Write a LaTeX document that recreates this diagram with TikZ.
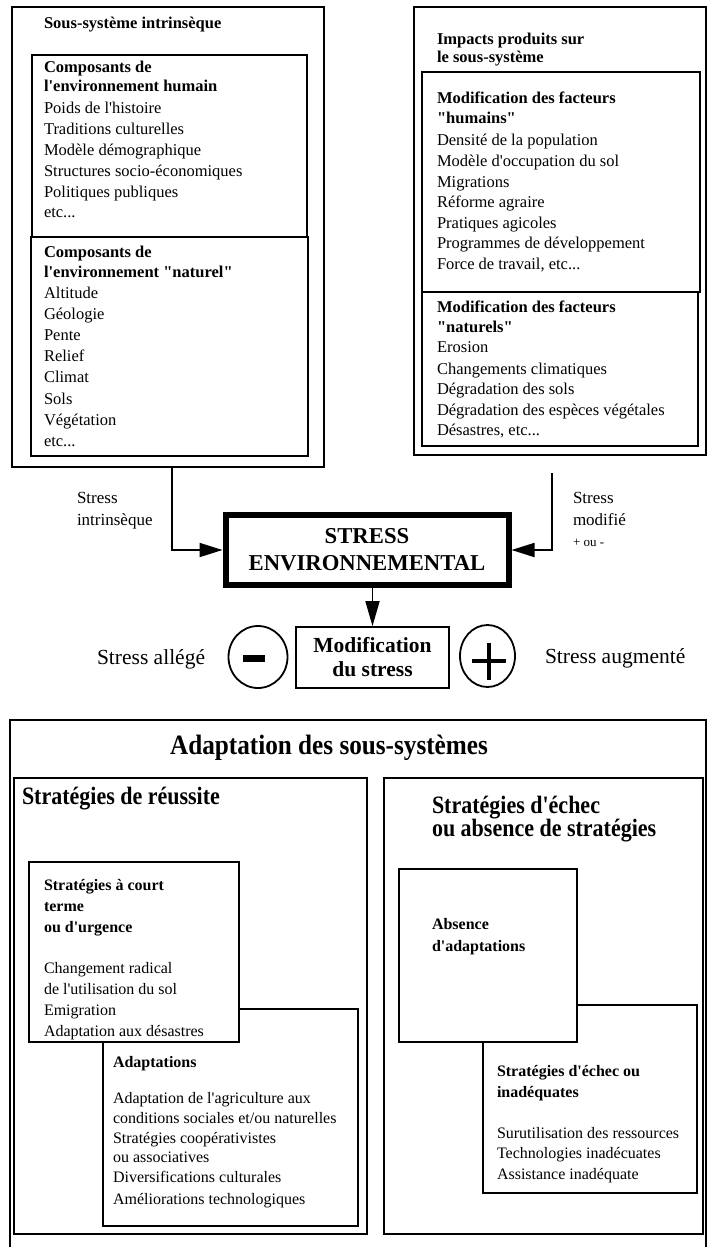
\documentclass[tikz,border=0pt]{standalone}
\usepackage{fontspec}
\newfontfamily\dgserif{Liberation Serif}
\usetikzlibrary{arrows.meta,shapes.geometric}
\newcommand\fsz[1]{\fontsize{#1}{#1}\selectfont}
\newcommand\cnd[1]{\scalebox{0.88}[1]{#1}}
\tikzset{
  box/.style={draw, line width=1.8pt, anchor=north west, inner sep=0pt, outer sep=0pt},
  wbox/.style={box, fill=white},
  txt/.style={font=\dgserif\fsz{16.5}, anchor=base west, inner sep=0pt, outer sep=0pt},
  txtb/.style={txt, font=\dgserif\bfseries\fsz{16.5}},
  lbl/.style={txt, font=\dgserif\fsz{17}},
  smtxt/.style={txt, font=\dgserif\fsz{16}},
  headb/.style={txt, font=\dgserif\bfseries\fsz{25}},
  arr/.style={line width=1.8pt, -{Triangle[length=23pt,width=14pt]}},
  signbar/.style={line width=#1},
}
\begin{document}
\begin{tikzpicture}[x=1pt,y=-1pt]
\useasboundingbox (0,0) rectangle (708,1247);

% ---------- top left ----------
\node[box, minimum width=312pt, minimum height=460pt] (tl) at (12,7) {};
\node[box, minimum width=275pt, minimum height=182pt] (hum) at (32,55) {};
\node[box, minimum width=277pt, minimum height=219pt] (nat) at (31,237) {};
\node[txtb] (tltitle) at (44,29) {Sous-système intrinsèque};
\foreach \ty/\tx [count=\i] in {67/{\bfseries Composants de}, 87/{\bfseries l'environnement humain},
  108/{Poids de l'histoire}, 129/{Traditions culturelles}, 150/{Modèle démographique},
  171/{Structures socio-économiques}, 192/{Politiques publiques}, 212/{etc...}}
  \node[txt] (huml\i) at (44,\ty+5) {\tx};
\foreach \ty/\tx [count=\i] in {252/{\bfseries Composants de}, 272/{\bfseries l'environnement "naturel"},
  293/{Altitude}, 314/{Géologie}, 335/{Pente}, 356/{Relief}, 377/{Climat}, 399/{Sols},
  420/{Végétation}, 441/{etc...}}
  \node[txt] (natl\i) at (44,\ty+5) {\tx};

% ---------- top right ----------
\node[box, minimum width=292pt, minimum height=448pt] (tr) at (414,7) {};
\node[box, minimum width=278pt, minimum height=220pt] (mh) at (422,72) {};
\node[box, minimum width=276pt, minimum height=154pt] (mn) at (422,292) {};
\node[txtb] (trt1) at (437,45) {Impacts produits sur};
\node[txtb] (trt2) at (437,63) {le sous-système};
\foreach \ty/\tx [count=\i] in {98/{\bfseries Modification des facteurs}, 118/{\bfseries "humains"},
  140/{Densité de la population}, 161/{Modèle d'occupation du sol}, 182/{Migrations},
  202/{Réforme agraire}, 223/{Pratiques agicoles}, 243/{Programmes de développement},
  264/{Force de travail, etc...}}
  \node[txt] (mhl\i) at (437,\ty+5) {\tx};
\foreach \ty/\tx [count=\i] in {307/{\bfseries Modification des facteurs}, 327/{\bfseries "naturels"},
  347/{Erosion}, 369/{Changements climatiques}, 389/{Dégradation des sols},
  410/{Dégradation des espèces végétales}, 430/{Désastres, etc...}}
  \node[txt] (mnl\i) at (437,\ty+5) {\tx};

% ---------- centre ----------
\node[draw, line width=6pt, minimum width=283pt, minimum height=70pt, inner sep=0pt,
      align=center, font=\dgserif\bfseries\fontsize{22.7}{27}\selectfont] (stress) at (367,550)
      {STRESS\\ENVIRONNEMENTAL};
\node[draw, line width=1.8pt, minimum width=153pt, minimum height=61pt, inner sep=0pt,
      align=center, font=\dgserif\bfseries\fontsize{21.5}{24}\selectfont] (mod) at (372.5,657.5)
      {Modification\\du stress};
\node[draw, ellipse, line width=1.8pt, minimum width=59pt, minimum height=62pt, inner sep=0pt] (minus) at (258,657) {};
\node[draw, ellipse, line width=1.8pt, minimum width=55pt, minimum height=62pt, inner sep=0pt] (plus) at (487.5,656) {};
\draw[signbar=6.5pt] (243,658.5) -- (265,658.5);
\draw[signbar=4.5pt] (472,661) -- (506,661);
\draw[signbar=4.5pt] (489,643) -- (489,680);

\node[lbl] (si1) at (77,503) {Stress};
\node[lbl] (si2) at (77,525) {intrinsèque};
\node[lbl] (sm1) at (573,503) {Stress};
\node[lbl] (sm2) at (573,525) {modifié};
\node[txt, font=\dgserif\fsz{13}] (sm3) at (573,546) {+ ou -};
\node[txt, font=\dgserif\fsz{21.5}] (sal) at (97,664) {Stress allégé};
\node[txt, font=\dgserif\fsz{21.5}] (sau) at (545,663) {Stress augmenté};

\coordinate (a2) at (552,473);
\draw[arr] ([xshift=160pt]tl.south west) |- (stress.west);
\draw[arr] (a2) |- (stress.east);
\draw[line width=1.8pt, -{Triangle[length=25pt,width=14pt]}] (stress.south -| mod.north) -- (mod.north);

% ---------- bottom ----------
\draw[line width=1.8pt] (10,1252) -- (10,720) -- (706,720) -- (706,1252);
\node[txt, font=\dgserif\bfseries\fsz{28}, anchor=base] (adt) at (329,754) {\scalebox{0.9}[1]{Adaptation des sous-systèmes}};

\node[box, minimum width=353pt, minimum height=456pt] (reu) at (14,778) {};
\node[box, minimum width=319pt, minimum height=456pt] (ech) at (384,778) {};
\node[headb] (reut) at (22,804) {\cnd{Stratégies de réussite}};
\node[headb] (echt1) at (432,813) {\cnd{Stratégies d'échec}};
\node[headb] (echt2) at (432,836) {\cnd{ou absence de stratégies}};

\node[box, minimum width=255pt, minimum height=217pt] (adap) at (103,1009) {};
\node[wbox, minimum width=210pt, minimum height=180pt] (court) at (29,862) {};
\node[box, minimum width=214pt, minimum height=188pt] (inad) at (483,1005) {};
\node[wbox, minimum width=178pt, minimum height=173pt] (abs) at (399,869) {};

\foreach \ty/\tx [count=\i] in {885/{\bfseries Stratégies à court}, 906/{\bfseries terme},
  927/{\bfseries ou d'urgence}, 968/{Changement radical}, 989/{de l'utilisation du sol},
  1010/{Emigration}, 1031/{Adaptation aux désastres}}
  \node[smtxt] (courtl\i) at (44,\ty+5) {\tx};
\foreach \ty/\tx [count=\i] in {1062/{\bfseries Adaptations}, 1098/{Adaptation de l'agriculture aux},
  1118/{conditions sociales et/ou naturelles}, 1138/{Stratégies coopérativistes},
  1157/{ou associatives}, 1177/{Diversifications culturales}, 1199/{Améliorations technologiques}}
  \node[smtxt] (adapl\i) at (113,\ty+5) {\tx};
\node[smtxt, font=\dgserif\bfseries\fsz{16}] (absl1) at (432,929) {Absence};
\node[smtxt, font=\dgserif\bfseries\fsz{16}] (absl2) at (432,951) {d'adaptations};
\foreach \ty/\tx [count=\i] in {1071/{\bfseries Stratégies d'échec ou}, 1092/{\bfseries inadéquates},
  1133/{Surutilisation des ressources}, 1153/{Technologies inadécuates}, 1174/{Assistance inadéquate}}
  \node[smtxt] (inadl\i) at (497,\ty+5) {\tx};
\end{tikzpicture}
\end{document}
